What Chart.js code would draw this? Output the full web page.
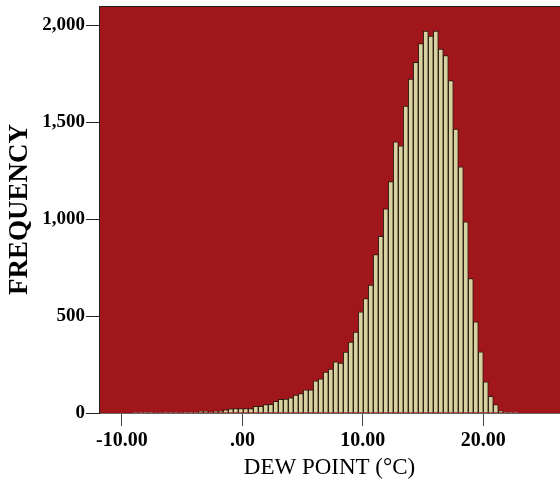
<!DOCTYPE html>
<html>
<head>
<meta charset="utf-8">
<script src="https://cdn.jsdelivr.net/npm/chart.js@4"></script>
<style>
	html, body { margin: 0; padding: 0; background: #fff; }
	#wrap { width: 560px; height: 493px; }
</style>
</head>
<body>
<div id="wrap"><canvas id="chart"></canvas></div>
<script>
// histogram bins: left edge of the first bin and bin width (deg C)
const binStart = -9.058;
const binWidth = 0.4151;

const counts = [
	1, 1, 2, 2, 3, 3, 4, 4, 4, 3,
	4, 5, 5, 9, 9, 5, 10, 10, 17, 21,
	23, 23, 23, 23, 34, 34, 43, 45, 60, 71,
	72, 78, 92, 100, 119, 120, 166, 176, 211, 226,
	264, 258, 314, 366, 418, 522, 591, 660, 818, 912,
	1053, 1194, 1399, 1378, 1584, 1723, 1809, 1906, 1971, 1945,
	1971, 1878, 1844, 1715, 1465, 1270, 986, 694, 471, 316,
	161, 86, 43, 11, 4, 4, 2,
];

const xTicks = [-10, 0, 10, 20];
const yTicks = [0, 500, 1000, 1500, 2000];

const points = counts.map((c, i) => ({ x: binStart + binWidth * (i + 0.5), y: c }));

const serif = "'Liberation Serif', 'Times New Roman', serif";

const plotBg = {
	id: "plotBg",
	beforeDraw(chart) {
		const { ctx, chartArea: a } = chart;
		ctx.save();
		ctx.fillStyle = "#a0161b";
		ctx.fillRect(a.left, a.top, a.right - a.left, a.bottom - a.top);
		ctx.strokeStyle = "#222";
		ctx.lineWidth = 1;
		ctx.beginPath();
		ctx.moveTo(a.left, a.top + 0.5);
		ctx.lineTo(a.right, a.top + 0.5);
		ctx.stroke();
		ctx.restore();
	},
};

const config = {
	type: "bar",
	data: {
		datasets: [
			{
				data: points,
				backgroundColor: "#d7d29f",
				borderColor: "rgba(25, 25, 15, 0.85)",
				borderWidth: 1,
				borderSkipped: "bottom",
				barPercentage: 1,
				categoryPercentage: 1,
			},
		],
	},
	options: {
		responsive: true,
		maintainAspectRatio: false,
		devicePixelRatio: 1,
		animation: false,
		layout: { padding: { top: 6, left: 0, right: 0, bottom: 0 } },
		plugins: {
			legend: { display: false },
			tooltip: { enabled: false },
		},
		scales: {
			x: {
				type: "linear",
				min: -11.905,
				max: 26.37,
				offset: false,
				afterBuildTicks: (scale) => {
					scale.ticks = xTicks.map((v) => ({ value: v }));
				},
				afterFit: (scale) => {
					scale.height = 80;
					scale.paddingLeft = 0;
					scale.paddingRight = 0;
				},
				grid: {
					display: true,
					offset: false,
					drawOnChartArea: false,
					drawTicks: true,
					tickLength: 13,
					color: "#444",
				},
				border: { display: true, color: "#666", width: 1 },
				ticks: {
					padding: 3,
					color: "#000",
					maxRotation: 0,
					font: { family: serif, size: 20, weight: "bold" },
					callback: (v) => (v === 0 ? ".00" : v.toFixed(2)),
				},
				title: {
					display: true,
					text: "DEW POINT (°C)",
					color: "#000",
					font: { family: serif, size: 23 },
					padding: { top: 0, bottom: 11 },
				},
			},
			y: {
				min: 0,
				max: 2100,
				afterBuildTicks: (scale) => {
					scale.ticks = yTicks.map((v) => ({ value: v }));
				},
				afterFit: (scale) => {
					scale.width = 99;
					scale.paddingTop = 0;
					scale.paddingBottom = 0;
				},
				grid: {
					display: true,
					drawOnChartArea: false,
					drawTicks: true,
					tickLength: 13,
					color: "#222",
				},
				border: { display: true, color: "#222", width: 1 },
				ticks: {
					padding: 1,
					color: "#000",
					font: { family: serif, size: 19, weight: "bold" },
					callback: (v) => v.toLocaleString("en-US"),
				},
				title: {
					display: true,
					text: "FREQUENCY",
					color: "#000",
					font: { family: serif, size: 27, weight: "bold" },
					padding: { top: 4, bottom: 0 },
				},
			},
		},
	},
	plugins: [plotBg],
};

new Chart(document.querySelector("#chart"), config);
</script>
</body>
</html>
